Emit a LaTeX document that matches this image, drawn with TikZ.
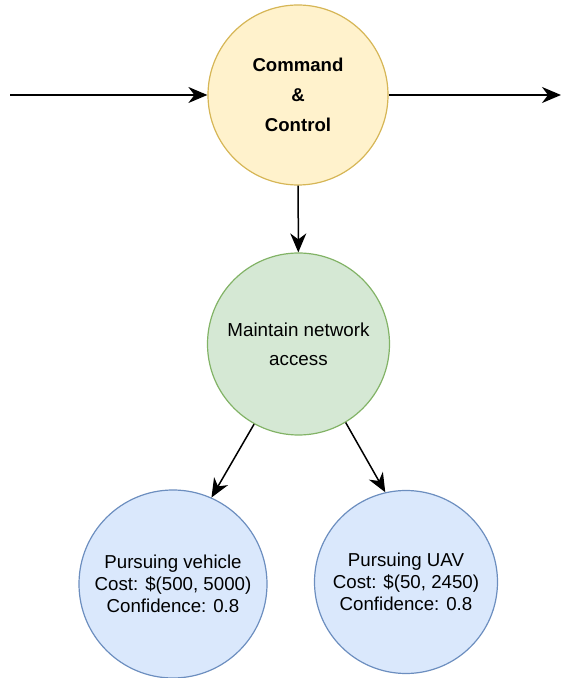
\documentclass[tikz,border=0pt]{standalone}
\usepackage{fontspec}
\setmainfont{Liberation Sans}
\usetikzlibrary{arrows.meta}
\definecolor{CCfill}{HTML}{FFF2CC}
\definecolor{CCline}{HTML}{D6B656}
\definecolor{NETfill}{HTML}{D5E8D4}
\definecolor{NETline}{HTML}{82B366}
\definecolor{PURfill}{HTML}{DAE8FC}
\definecolor{PURline}{HTML}{6C8EBF}

\begin{document}
\begin{tikzpicture}[x=1pt, y=1pt,
  goal/.style={circle, draw, line width=1.2pt, inner sep=0pt, align=center},
  link/.style={line width=1.5pt, -{Stealth[length=19pt, width=16pt, inset=6pt]}}]%
\useasboundingbox (0,0) rectangle (562,678);%
\node[goal, fill=CCfill, draw=CCline, minimum size=180pt, font=\fontsize{18.6}{30}\selectfont\bfseries] (cc) at (298, 583) {Command\\\&\\Control};%
\node[goal, fill=NETfill, draw=NETline, minimum size=182pt, font=\fontsize{18.8}{29}\selectfont] (net) at (298.5, 334) {Maintain network\\access};%
\node[goal, fill=PURfill, draw=PURline, minimum size=188pt, font=\fontsize{18.7}{22}\selectfont] (pv) at (173, 94) {Pursuing vehicle\\Cost: \$(500, 5000)\\Confidence: 0.8};%
\node[goal, fill=PURfill, draw=PURline, minimum size=183pt, font=\fontsize{18.7}{22}\selectfont] (uav) at (406, 96) {Pursuing UAV\\Cost: \$(50, 2450)\\Confidence: 0.8};%
\coordinate (in) at (10, 583);%
\coordinate (out) at (561, 583);%
\draw[link] (in) -- (cc.west);%
\draw[link] (cc.east) -- (out);%
\draw[link] (cc) -- (net);%
\draw[link] (net.241) -- (pv.66);%
\draw[link] (net.301) -- (uav.103);%
\end{tikzpicture}
\end{document}
